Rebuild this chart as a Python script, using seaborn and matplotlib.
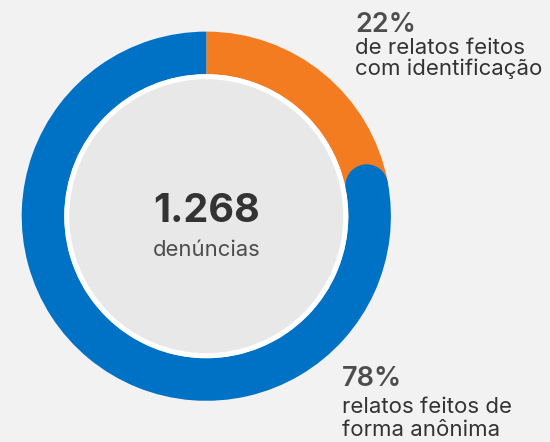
import numpy as np
import matplotlib
matplotlib.use('Agg')
import matplotlib.pyplot as plt
from matplotlib.patches import Circle
import seaborn as sns

# data
labels = ['de relatos feitos\ncom identificação', 'relatos feitos de\nforma anônima']
shares = [22, 78]
pct_labels = ['22%', '78%']
total = '1.268'
total_label = 'denúncias'

BG = '#f2f2f2'
INNER = '#e8e8e8'
colors = ['#f47c20', '#0072c6']
TEXT_DARK = '#333333'
TEXT_MID = '#4d4d4d'

W, H = 550, 442
cx, cy = 206.3, H - 216.2
R_OUT = 184.6
BAND = 42.6
R_GRAY = 137

sns.set_theme(style='white')
plt.rcParams['font.family'] = ['Inter', 'DejaVu Sans']

fig = plt.figure(figsize=(W / 100, H / 100), dpi=100)
fig.patch.set_facecolor(BG)
ax = fig.add_axes([0, 0, 1, 1])
ax.set_facecolor(BG)

ax.pie(shares, colors=colors, startangle=90, counterclock=False,
       center=(cx, cy), radius=R_OUT,
       wedgeprops=dict(width=BAND, linewidth=0))

# rounded end of the blue arc, sitting on the orange one
theta = np.deg2rad(90 - 360 * shares[0] / sum(shares))
r_mid = R_OUT - BAND / 2
ax.add_patch(Circle((cx + r_mid * np.cos(theta), cy + r_mid * np.sin(theta)),
                    BAND / 2, color=colors[1], lw=0, zorder=3))

ax.add_patch(Circle((cx, cy), R_OUT - BAND, color='white', lw=0, zorder=4))
ax.add_patch(Circle((cx, cy), R_GRAY, color=INNER, lw=0, zorder=5))

ax.text(cx, H - 222, total, ha='center', va='baseline', fontsize=28.5,
        fontweight='bold', color=TEXT_DARK, zorder=6)
ax.text(cx, H - 256, total_label, ha='center', va='baseline', fontsize=15.9,
        color=TEXT_MID, zorder=6)

# side annotations: (x, pct baseline, first line baseline, line step)
anchors = [(355, 32, 53.5, 21.7), (342, 386, 413, 23)]
for (x, y, y1, step), pct, lab in zip(anchors, pct_labels, labels):
    ax.text(x, H - y, pct, ha='left', va='baseline', fontsize=19.5,
            fontweight='semibold', color=TEXT_MID)
    for i, line in enumerate(lab.split('\n')):
        ax.text(x, H - (y1 + i * step), line, ha='left', va='baseline',
                fontsize=16, color=TEXT_DARK)

ax.set_xlim(0, W)
ax.set_ylim(0, H)
ax.set_aspect('equal')
ax.axis('off')

plt.savefig('out.png', dpi=100, facecolor=BG)
